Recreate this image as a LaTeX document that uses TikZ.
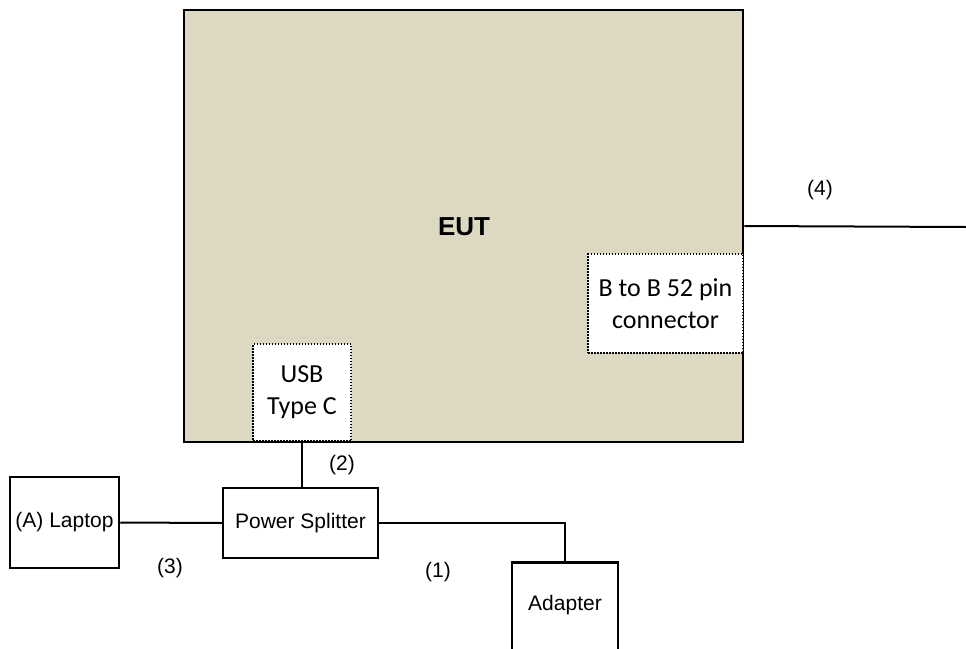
\documentclass[tikz,border=0pt]{standalone}
\usepackage{fontspec}
\setmainfont{Liberation Sans}
\newfontfamily\calib{Carlito}
\definecolor{eutfill}{HTML}{DDD8C2}
\begin{document}
\begin{tikzpicture}[x=1pt,y=-1pt,
  blackbox/.style={draw=black, line width=2.5pt, inner sep=0pt, fill=white},
  dotbox/.style={draw=black, line width=1.5pt, dash pattern=on 1.5pt off 1.5pt, fill=white, inner sep=0pt, align=center, font=\calib\fontsize{26}{32}\selectfont},
  wire/.style={line width=2pt},
  lbl/.style={font=\fontsize{21}{25}\selectfont, inner sep=0pt}]
\useasboundingbox (0,0) rectangle (966,648);
% EUT
\node[draw=black, line width=2.8pt, fill=eutfill, minimum width=559pt, minimum height=432pt, inner sep=0pt] (eut) at (463.5,226) {};
\node[inner sep=0pt, font=\bfseries\fontsize{26}{30}\selectfont] (euttext) at (464,227) {EUT};
\node[dotbox, minimum width=98pt, minimum height=97pt] (usb) at (302,392.5) {USB\\Type C};
\node[dotbox, minimum width=155pt, minimum height=99pt] (btb) at (665.5,303.5) {B to B 52 pin\\connector};
% peripherals
\node[blackbox, minimum width=109pt, minimum height=91pt, lbl] (laptop) at (64.5,522.5) {(A) Laptop};
\node[blackbox, minimum width=155pt, minimum height=70pt, lbl] (splitter) at (300.5,523) {Power Splitter};
\begin{scope}
\clip (0,0) rectangle (966,648);
\node[blackbox, minimum width=106pt, minimum height=120pt, anchor=north] (adapter) at (565,561) {};
\end{scope}
\node[lbl] (adaptertext) at (565,605) {Adapter};
% connectors
\coordinate (far4) at (966,227);
\draw[wire] (eut.east |- 0,226) -- (far4);
\draw[wire] (usb.south) -- (splitter.north -| usb.south);
\draw[wire] (laptop.east) -- (splitter.west);
\draw[wire] (splitter.east) -| (adapter.north);
% labels
\node[lbl] (l4) at (820,190) {(4)};
\node[lbl] (l2) at (342,465) {(2)};
\node[lbl] (l3) at (170,568) {(3)};
\node[lbl] (l1) at (438,572) {(1)};
\end{tikzpicture}
\end{document}
